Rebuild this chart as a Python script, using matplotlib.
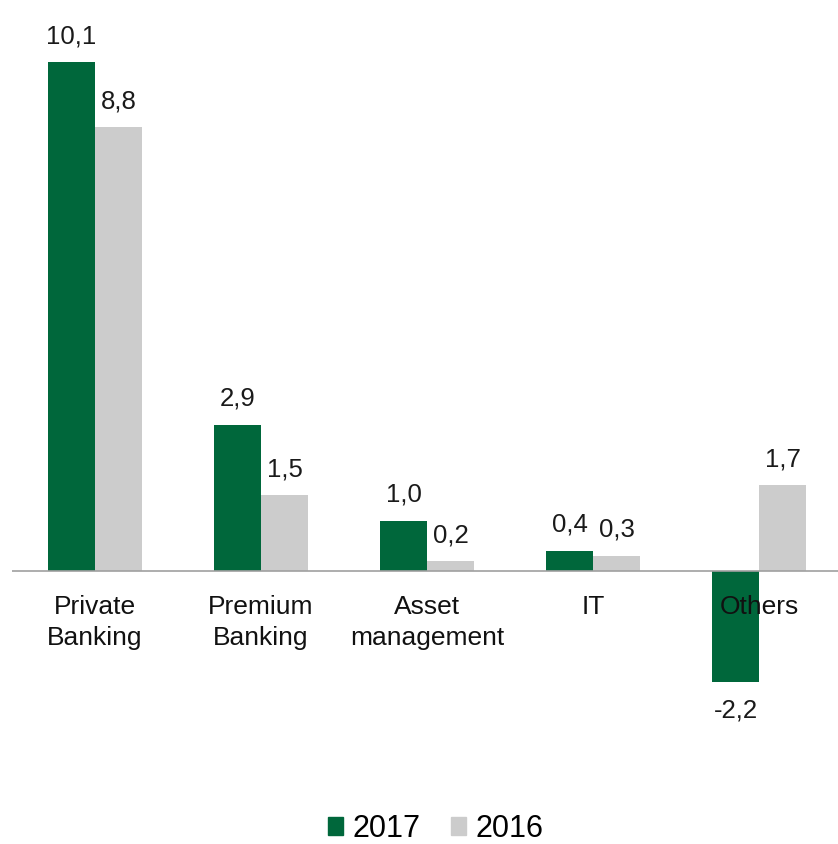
import numpy as np
import matplotlib
matplotlib.use("Agg")
from matplotlib import pyplot as plt
from matplotlib.patches import Patch

plt.rcParams['font.family'] = ['Liberation Sans', 'DejaVu Sans']

categories = ["Private\nBanking", "Premium\nBanking", "Asset\nmanagement", "IT", "Others"]
vals_2017 = [10.1, 2.9, 1.0, 0.4, -2.2]
vals_2016 = [8.8, 1.5, 0.2, 0.3, 1.7]
series_names = ["2017", "2016"]

GREEN = "#00673B"
GREY = "#CCCCCC"

W, H = 838, 844
fig = plt.figure(figsize=(W / 100, H / 100), dpi=100)
# axes placed in pixel terms so the zero line sits where it should
ax = fig.add_axes([12 / W, (H - 780) / H, 826 / W, 760 / H])

x = np.arange(len(categories))
bw = 0.283
b1 = ax.bar(x - bw / 2, vals_2017, bw, color=GREEN, zorder=2)
b2 = ax.bar(x + bw / 2, vals_2016, bw, color=GREY, zorder=2)

ax.set_xlim(-0.5, -0.5 + 826 / 166)
ax.set_ylim(-(780 - 571) / 50.4, (571 - 20) / 50.4)
ax.axhline(0, color="#A0A0A0", lw=1.2, zorder=3)

for bars, vals in ((b1, vals_2017), (b2, vals_2016)):
    for r, v in zip(bars, vals):
        lab = ("%.1f" % v).replace(".", ",")
        cx = r.get_x() + r.get_width() / 2
        if v >= 0:
            ax.annotate(lab, (cx, v), xytext=(0, 10), textcoords="offset points",
                        ha="center", va="bottom", fontsize=18.5, color="#1a1a1a")
        else:
            ax.annotate(lab, (cx, v), xytext=(0, -12), textcoords="offset points",
                        ha="center", va="top", fontsize=18.5, color="#1a1a1a")

# category names under the zero line, drawn over the bars
for xi, c in zip(x, categories):
    ax.annotate(c, (xi, 0), xytext=(0, -17), textcoords="offset points",
                ha="center", va="top", fontsize=19, color="#111111",
                linespacing=1.38, zorder=5)

for s in ax.spines.values():
    s.set_visible(False)
ax.set_xticks([])
ax.set_yticks([])

handles = [Patch(color=GREEN), Patch(color=GREY)]
fig.legend(handles, series_names, loc="center", bbox_to_anchor=(0.52, 1 - 829 / H),
           ncol=2, frameon=False, fontsize=22, handlelength=0.5, handleheight=0.5,
           handletextpad=0.3, columnspacing=1.0)

fig.savefig("out.png", dpi=100)
